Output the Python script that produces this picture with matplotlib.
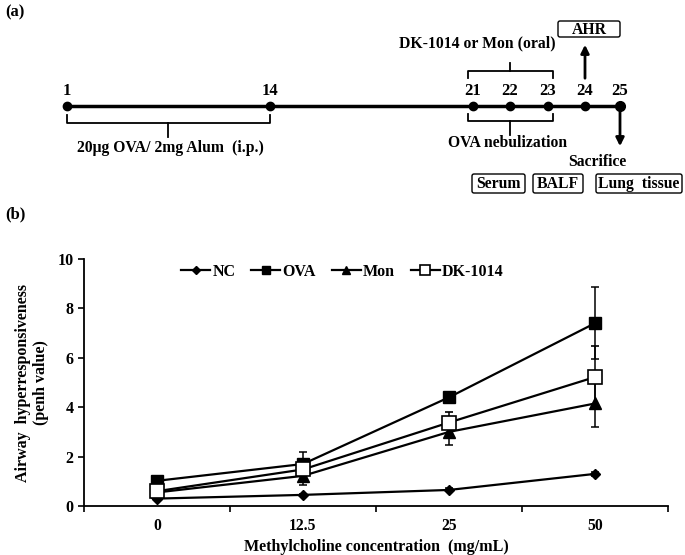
import numpy as np
import matplotlib
matplotlib.use('Agg')
import matplotlib.pyplot as plt
from matplotlib.patches import FancyBboxPatch

plt.rcParams['font.family'] = ['Liberation Serif', 'DejaVu Serif']
plt.rcParams['font.weight'] = 'bold'
plt.rcParams['axes.labelweight'] = 'bold'
plt.rcParams['font.size'] = 11.3

# 数据
conc = ['0', '12.5', '25', '50']
nc = [0.30, 0.45, 0.65, 1.30]
ova = [1.02, 1.70, 4.40, 7.40]
mon = [0.55, 1.22, 3.00, 4.15]
dk = [0.60, 1.48, 3.38, 5.22]
nc_err = [0.05, 0.05, 0.06, 0.08]
ova_err = [0.10, 0.48, 0.12, 1.45]
mon_err = [0.10, 0.36, 0.55, 0.95]
dk_err = [0.15, 0.25, 0.42, 1.26]

days = ['1', '14', '21', '22', '23', '24', '25']
day_x = [67, 270, 473, 510, 548, 585, 620]

fig = plt.figure(figsize=(6.85, 5.55), dpi=100)

# (a) 时间轴示意图, 用像素坐标
ax0 = fig.add_axes([0, 0, 1, 1])
ax0.set_xlim(0, 685)
ax0.set_ylim(555, 0)
ax0.axis('off')

ax0.text(5, 12, '(a)', fontsize=12, va='center', ha='left')
ax0.plot([day_x[0], day_x[-1]], [106, 106], color='black', lw=2.5)
ax0.plot(day_x, [106] * len(day_x), 'o', color='black', ms=6)
ax0.plot(day_x[-1], 106, 'o', color='black', ms=7)
for d, x in zip(days, day_x):
    ax0.text(x, 91, d, ha='center', va='center', fontsize=12)

def bracket(x1, x2, y, h, tip):
    ax0.plot([x1, x1, x2, x2], [y, y + h, y + h, y], color='black', lw=1.3)
    xm = (x1 + x2) / 2
    ax0.plot([xm, xm], [y + h, y + h + tip], color='black', lw=1.3)

bracket(67, 270, 115, 8, 14)
ax0.text(170, 148, '20μg OVA/ 2mg Alum  (i.p.)', ha='center', va='center')
bracket(468, 553, 114, 7, 14)
ax0.text(508, 143, 'OVA nebulization', ha='center', va='center')
bracket(468, 553, 78, -7, -8)
ax0.text(477, 43, 'DK-1014 or Mon (oral)', ha='center', va='center')

ax0.annotate('', xy=(585, 42), xytext=(585, 81),
             arrowprops=dict(arrowstyle='-|>', color='black', lw=2, mutation_scale=12))
ax0.annotate('', xy=(620, 149), xytext=(620, 106),
             arrowprops=dict(arrowstyle='-|>', color='black', lw=2, mutation_scale=12))
ax0.text(597, 162, 'Sacrifice', ha='center', va='center')

def box(x1, x2, y1, y2, label):
    p = FancyBboxPatch((x1, y1), x2 - x1, y2 - y1, boxstyle='round,pad=0,rounding_size=2',
                       fc='white', ec='black', lw=1)
    ax0.add_patch(p)
    ax0.text((x1 + x2) / 2, (y1 + y2) / 2 + 0.5, label, ha='center', va='center')

box(558, 620, 21, 37, 'AHR')
box(472, 525, 174, 193, 'Serum')
box(533, 583, 174, 193, 'BALF')
box(596, 682, 174, 193, 'Lung  tissue')

ax0.text(5, 214, '(b)', fontsize=12, va='center', ha='left')

# (b) 气道高反应
ax = fig.add_axes([84 / 685, 1 - 506 / 555, 584 / 685, 247 / 555])
x = np.arange(len(conc)) + 0.5
styles = [
    ('NC', nc, nc_err, dict(marker='D', ms=5.5, mfc='black')),
    ('OVA', ova, ova_err, dict(marker='s', ms=8, mfc='black')),
    ('Mon', mon, mon_err, dict(marker='^', ms=8, mfc='black')),
    ('DK-1014', dk, dk_err, dict(marker='s', ms=9.5, mfc='white', mew=1.2)),
]
lines = []
for name, y, e, st in styles:
    c = ax.errorbar(x, y, yerr=e, color='black', lw=1.6, elinewidth=1.1, capsize=3,
                    capthick=1.1, mec='black', label=name, **st)
    lines.append(c[0])

ax.set_xlim(0, 4)
ax.set_ylim(0, 10)
ax.set_yticks(range(0, 11, 2))
ax.set_xticks(range(0, 5))
ax.set_xticklabels([])
ax.set_xticks(x, minor=True)
ax.set_xticklabels(conc, minor=True)
ax.tick_params(axis='x', which='minor', length=0, pad=9)
ax.tick_params(axis='x', which='major', direction='out', length=4, width=1.2)
ax.tick_params(axis='y', direction='out', length=4, width=1.2)
ax.tick_params(labelsize=11.5)
for s in ['top', 'right']:
    ax.spines[s].set_visible(False)
for s in ['left', 'bottom']:
    ax.spines[s].set_linewidth(1.3)

ax.set_xlabel('Methylcholine concentration  (mg/mL)', fontsize=11.5, labelpad=3)
ax.set_ylabel('Airway  hyperresponsiveness\n(penh value)', fontsize=11.5, labelpad=6)

fig.legend(lines, [s[0] for s in styles], loc='center', bbox_to_anchor=(0.5, 1 - 272 / 555),
           ncol=4, frameon=False, handlelength=1.8, handletextpad=0.15, columnspacing=1.0,
           fontsize=11.5, markerscale=0.75)

fig.savefig('out.png', dpi=100)
